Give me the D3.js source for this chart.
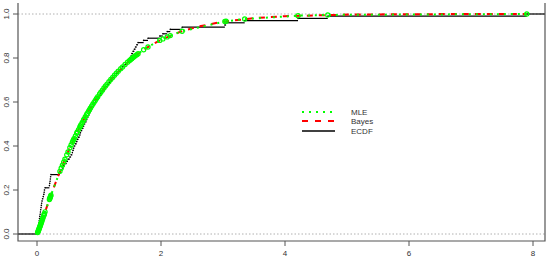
<!DOCTYPE html>
<html>
<head>
<meta charset="utf-8">
<script src="https://cdn.jsdelivr.net/npm/d3@7"></script>
<style>
  body { margin: 0; background: #fff; }
  svg { display: block; font-family: "Liberation Sans", Arial, sans-serif; }
</style>
</head>
<body>
<div id="chart"></div>
<script>
const sample = [
  0.01, 0.015, 0.02, 0.025, 0.03, 0.035, 0.04, 0.045, 0.05, 0.055,
  0.06, 0.065, 0.07, 0.075, 0.08, 0.09, 0.10, 0.11, 0.115, 0.12,
  0.13, 0.20, 0.205, 0.21, 0.215, 0.22, 0.225,
  0.37, 0.39, 0.41, 0.43, 0.45, 0.48, 0.50, 0.53, 0.55, 0.57,
  0.58, 0.59, 0.60, 0.62, 0.64, 0.65, 0.67, 0.69, 0.70, 0.71,
  0.73, 0.75, 0.76, 0.78, 0.80, 0.81, 0.83, 0.845, 0.86, 0.88,
  0.90, 0.92, 0.94, 0.96, 0.98, 1.01, 1.03, 1.055, 1.08, 1.105,
  1.13, 1.16, 1.19, 1.22, 1.25, 1.28, 1.31, 1.35, 1.38, 1.42,
  1.46, 1.49, 1.51, 1.52, 1.53, 1.55, 1.57, 1.59, 1.61, 1.63,
  1.72, 1.79, 1.98, 2.03, 2.10, 2.15, 2.34, 3.03, 3.05, 3.35, 4.21, 4.69, 7.90
];

// CDF ajustee (MLE) aux points de l'echantillon
const mleCdf = [
  0.0063, 0.0098, 0.0134, 0.0171, 0.0209, 0.0247, 0.0286, 0.0325, 0.0364, 0.0403,
  0.0443, 0.0483, 0.0522, 0.0563, 0.0602, 0.0683, 0.0763, 0.0844, 0.0885, 0.0925,
  0.1006, 0.1566, 0.1605, 0.1644, 0.1683, 0.1723, 0.1762,
  0.2847, 0.2988, 0.3127, 0.3265, 0.3399, 0.3598, 0.3728, 0.3919, 0.4045, 0.4166,
  0.4226, 0.4286, 0.4345, 0.4462, 0.4577, 0.4634, 0.4746, 0.4856, 0.4909, 0.4965,
  0.5071, 0.5175, 0.5228, 0.5327, 0.5426, 0.5476, 0.5572, 0.5643, 0.5713, 0.5805,
  0.5896, 0.5985, 0.6071, 0.6156, 0.6239, 0.6362, 0.6441, 0.6538, 0.6633, 0.6725,
  0.6814, 0.6919, 0.7021, 0.7119, 0.7215, 0.7307, 0.7397, 0.7512, 0.7595, 0.7703,
  0.7805, 0.7879, 0.7927, 0.7951, 0.7974, 0.8020, 0.8065, 0.8109, 0.8152, 0.8195,
  0.8373, 0.8501, 0.8800, 0.8868, 0.8958, 0.9018, 0.9217, 0.9661, 0.9669, 0.9772, 0.9923, 0.9958, 0.9999
];

// CDF bayesienne (grille plus grossiere)
const bayesX = [0.01, 0.05, 0.10, 0.15, 0.20, 0.30, 0.40, 0.50, 0.60, 0.70, 0.80, 0.90, 1.0,
  1.2, 1.4, 1.6, 1.8, 2.0, 2.3, 2.6, 3.0, 3.5, 4.0, 5.0, 6.0, 7.0, 7.9];
const bayesCdf = [0.0063, 0.0364, 0.0763, 0.1167, 0.1566, 0.2336, 0.3058, 0.3728, 0.4345, 0.4909,
  0.5426, 0.5896, 0.6321, 0.7054, 0.7650, 0.8130, 0.8518, 0.8828, 0.9179, 0.9428,
  0.9649, 0.9811, 0.9899, 0.9972, 0.9992, 0.9998, 0.9999];

const xTicks = [0, 2, 4, 6, 8];
const yTicks = [0.0, 0.2, 0.4, 0.6, 0.8, 1.0];
const legendLabels = ["MLE", "Bayes", "ECDF"];

const W = 550, H = 258;
const bLeft = 18, bRight = 545, bTop = 3, bBottom = 241;

const svg = d3.select("#chart").append("svg")
  .attr("width", W).attr("height", H);

const x = d3.scaleLinear().domain([0, 8]).range([37, 533]);
const y = d3.scaleLinear().domain([0, 1]).range([234, 14]);

// lignes pointillees a 0 et 1
svg.selectAll("line.ref")
  .data([0, 1])
  .enter().append("line")
  .attr("x1", bLeft).attr("x2", bRight)
  .attr("y1", d => y(d)).attr("y2", d => y(d))
  .attr("stroke", "#b0b0b0")
  .attr("stroke-width", 1)
  .attr("stroke-dasharray", "1.5,2");

// ECDF : segments horizontaux
const n = sample.length;
const steps = [{ x0: x.invert(bLeft), x1: sample[0], v: 0 }];
sample.forEach((s, i) => {
  steps.push({ x0: s, x1: i < n - 1 ? sample[i + 1] : x.invert(bRight), v: (i + 1) / n });
});

svg.append("g").selectAll("line")
  .data(steps)
  .enter().append("line")
  .attr("x1", d => x(d.x0)).attr("x2", d => x(d.x1))
  .attr("y1", d => y(d.v)).attr("y2", d => y(d.v))
  .attr("stroke", "#000")
  .attr("stroke-width", 1.2);

svg.append("g").selectAll("circle")
  .data(sample)
  .enter().append("circle")
  .attr("cx", d => x(d))
  .attr("cy", (d, i) => y((i + 1) / n))
  .attr("r", 0.8)
  .attr("fill", "#000");

// Bayes : tirets rouges
svg.append("path")
  .datum(bayesX.map((d, i) => [d, bayesCdf[i]]))
  .attr("d", d3.line().x(d => x(d[0])).y(d => y(d[1])))
  .attr("fill", "none")
  .attr("stroke", "#ff0000")
  .attr("stroke-width", 2)
  .attr("stroke-dasharray", "6,6");

// MLE : pointilles verts + cercles
svg.append("path")
  .datum(sample.map((d, i) => [d, mleCdf[i]]))
  .attr("d", d3.line().x(d => x(d[0])).y(d => y(d[1])))
  .attr("fill", "none")
  .attr("stroke", "#00ff00")
  .attr("stroke-width", 2)
  .attr("stroke-dasharray", "2,5");

svg.append("g").selectAll("circle")
  .data(sample)
  .enter().append("circle")
  .attr("cx", d => x(d))
  .attr("cy", (d, i) => y(mleCdf[i]))
  .attr("r", 2.1)
  .attr("fill", "none")
  .attr("stroke", "#00ff00")
  .attr("stroke-width", 1.2);

// cadre : gauche, bas, droite
svg.append("path")
  .attr("d", `M${bLeft},${bTop}V${bBottom}H${bRight}V${bTop}`)
  .attr("fill", "none")
  .attr("stroke", "#555")
  .attr("stroke-width", 1.2);

// axe x
const gx = svg.append("g");
gx.selectAll("line").data(xTicks).enter().append("line")
  .attr("x1", d => x(d)).attr("x2", d => x(d))
  .attr("y1", bBottom).attr("y2", bBottom + 5)
  .attr("stroke", "#555");
gx.selectAll("text").data(xTicks).enter().append("text")
  .attr("x", d => x(d)).attr("y", 256)
  .attr("text-anchor", "middle")
  .attr("font-size", 8)
  .attr("fill", "#333")
  .text(d => d);

// axe y
const gy = svg.append("g");
gy.selectAll("line").data(yTicks).enter().append("line")
  .attr("x1", bLeft - 5).attr("x2", bLeft)
  .attr("y1", d => y(d)).attr("y2", d => y(d))
  .attr("stroke", "#555");
gy.selectAll("text").data(yTicks).enter().append("text")
  .attr("transform", d => `translate(9,${y(d)}) rotate(-90)`)
  .attr("text-anchor", "middle")
  .attr("font-size", 8)
  .attr("fill", "#333")
  .text(d => d.toFixed(1));

// legende
const leg = svg.append("g");
const legY = [112, 121, 131];
const legStyle = [
  { c: "#00ff00", w: 2, dash: "2,5" },
  { c: "#ff0000", w: 2, dash: "6,7" },
  { c: "#000", w: 1.5, dash: null }
];
legendLabels.forEach((lab, i) => {
  leg.append("line")
    .attr("x1", 302).attr("x2", 335)
    .attr("y1", legY[i]).attr("y2", legY[i])
    .attr("stroke", legStyle[i].c)
    .attr("stroke-width", legStyle[i].w)
    .attr("stroke-dasharray", legStyle[i].dash);
  leg.append("text")
    .attr("x", 351).attr("y", legY[i] + 3)
    .attr("font-size", 8)
    .attr("fill", "#333")
    .text(lab);
});
</script>
</body>
</html>
